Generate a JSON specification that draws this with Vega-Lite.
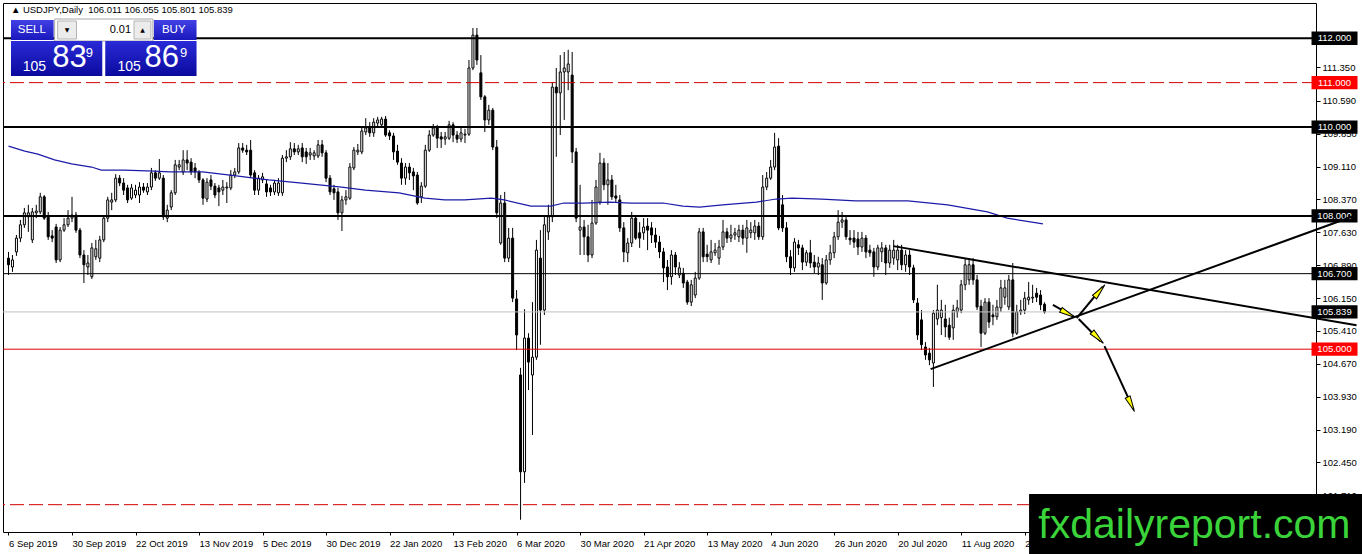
{
  "$schema": "https://vega.github.io/schema/vega-lite/v6.json",
  "width": 1313,
  "height": 529,
  "autosize": "none",
  "padding": {"left": 3, "top": 3, "right": 46, "bottom": 22},
  "background": "#ffffff",
  "config": {
    "view": {"stroke": "#000000", "strokeWidth": 1},
    "axis": {"grid": false, "domain": false, "labelFont": "Liberation Sans", "labelFontSize": 9.5, "labelColor": "#000000", "tickColor": "#000000", "labelOverlap": false, "labelBound": false, "labelFlush": false}
  },
  "data": {"values": [{}]},
  "datasets": {
    "bars": [
      {"i":0,"o":107.05,"h":107.19,"l":106.67,"c":106.9},
      {"i":1,"o":106.85,"h":107.12,"l":106.74,"c":107.01},
      {"i":2,"o":107.19,"h":107.57,"l":107.1,"c":107.5},
      {"i":3,"o":107.5,"h":107.91,"l":107.41,"c":107.8},
      {"i":4,"o":107.8,"h":108.18,"l":107.73,"c":108.07},
      {"i":5,"o":107.98,"h":108.25,"l":107.64,"c":108.07},
      {"i":6,"o":107.46,"h":108.18,"l":107.39,"c":108.09},
      {"i":7,"o":108.07,"h":108.25,"l":107.95,"c":108.11},
      {"i":8,"o":108.09,"h":108.52,"l":108.04,"c":108.43},
      {"i":9,"o":108.43,"h":108.47,"l":107.91,"c":107.95},
      {"i":10,"o":107.98,"h":108.09,"l":107.46,"c":107.53},
      {"i":11,"o":107.55,"h":107.68,"l":107.41,"c":107.5},
      {"i":12,"o":107.75,"h":107.82,"l":106.94,"c":107.01},
      {"i":13,"o":107.01,"h":107.75,"l":106.96,"c":107.68},
      {"i":14,"o":107.68,"h":107.95,"l":107.64,"c":107.8},
      {"i":15,"o":107.8,"h":108.13,"l":107.75,"c":107.95},
      {"i":16,"o":107.95,"h":108.43,"l":107.86,"c":108.02},
      {"i":17,"o":108.02,"h":108.09,"l":107.62,"c":107.68},
      {"i":18,"o":107.68,"h":107.73,"l":107.05,"c":107.12},
      {"i":19,"o":107.12,"h":107.23,"l":106.49,"c":106.9},
      {"i":20,"o":106.85,"h":107.12,"l":106.67,"c":106.94},
      {"i":21,"o":106.63,"h":107.39,"l":106.58,"c":107.28},
      {"i":22,"o":107.08,"h":107.46,"l":107.01,"c":107.26},
      {"i":23,"o":107.05,"h":107.55,"l":106.96,"c":107.46},
      {"i":24,"o":107.46,"h":108.02,"l":107.41,"c":107.95},
      {"i":25,"o":107.95,"h":108.43,"l":107.86,"c":108.36},
      {"i":26,"o":108.31,"h":108.52,"l":108.13,"c":108.36},
      {"i":27,"o":108.36,"h":108.94,"l":108.31,"c":108.85},
      {"i":28,"o":108.85,"h":108.92,"l":108.67,"c":108.74},
      {"i":29,"o":108.74,"h":108.85,"l":108.47,"c":108.58},
      {"i":30,"o":108.63,"h":108.7,"l":108.29,"c":108.36},
      {"i":31,"o":108.4,"h":108.72,"l":108.36,"c":108.63},
      {"i":32,"o":108.47,"h":108.7,"l":108.4,"c":108.58},
      {"i":33,"o":108.47,"h":108.76,"l":108.29,"c":108.65},
      {"i":34,"o":108.65,"h":108.74,"l":108.52,"c":108.58},
      {"i":35,"o":108.54,"h":108.74,"l":108.47,"c":108.65},
      {"i":36,"o":108.65,"h":109.08,"l":108.58,"c":108.97},
      {"i":37,"o":108.97,"h":109.03,"l":108.79,"c":108.85},
      {"i":38,"o":108.85,"h":109.28,"l":108.81,"c":108.97},
      {"i":39,"o":108.85,"h":108.92,"l":107.91,"c":107.98},
      {"i":40,"o":107.95,"h":108.25,"l":107.86,"c":108.13},
      {"i":41,"o":108.2,"h":108.58,"l":108.13,"c":108.52},
      {"i":42,"o":108.52,"h":109.26,"l":108.47,"c":109.15},
      {"i":43,"o":109.1,"h":109.26,"l":109.03,"c":109.15},
      {"i":44,"o":108.99,"h":109.48,"l":108.92,"c":109.26},
      {"i":45,"o":109.26,"h":109.48,"l":109.03,"c":109.19},
      {"i":46,"o":109.21,"h":109.3,"l":108.92,"c":108.99},
      {"i":47,"o":109.08,"h":109.19,"l":108.85,"c":108.99},
      {"i":48,"o":108.99,"h":109.03,"l":108.74,"c":108.81},
      {"i":49,"o":108.81,"h":108.85,"l":108.25,"c":108.4},
      {"i":50,"o":108.38,"h":108.85,"l":108.31,"c":108.76},
      {"i":51,"o":108.81,"h":108.92,"l":108.58,"c":108.67},
      {"i":52,"o":108.67,"h":108.74,"l":108.4,"c":108.47},
      {"i":53,"o":108.63,"h":108.7,"l":108.22,"c":108.54},
      {"i":54,"o":108.58,"h":108.81,"l":108.47,"c":108.65},
      {"i":55,"o":108.63,"h":108.76,"l":108.29,"c":108.65},
      {"i":56,"o":108.63,"h":109.03,"l":108.58,"c":108.92},
      {"i":57,"o":108.92,"h":109.08,"l":108.85,"c":108.99},
      {"i":58,"o":108.99,"h":109.64,"l":108.94,"c":109.53},
      {"i":59,"o":109.53,"h":109.64,"l":109.42,"c":109.48},
      {"i":60,"o":109.48,"h":109.6,"l":109.37,"c":109.44},
      {"i":61,"o":109.48,"h":109.71,"l":108.85,"c":108.92},
      {"i":62,"o":108.97,"h":109.03,"l":108.47,"c":108.58},
      {"i":63,"o":108.58,"h":108.92,"l":108.47,"c":108.85},
      {"i":64,"o":108.81,"h":108.97,"l":108.74,"c":108.88},
      {"i":65,"o":108.72,"h":108.81,"l":108.43,"c":108.54},
      {"i":66,"o":108.63,"h":108.7,"l":108.45,"c":108.54},
      {"i":67,"o":108.54,"h":108.81,"l":108.47,"c":108.74},
      {"i":68,"o":108.52,"h":108.85,"l":108.45,"c":108.74},
      {"i":69,"o":108.52,"h":109.37,"l":108.45,"c":109.3},
      {"i":70,"o":109.3,"h":109.48,"l":109.21,"c":109.33},
      {"i":71,"o":109.33,"h":109.66,"l":109.26,"c":109.51},
      {"i":72,"o":109.51,"h":109.64,"l":109.37,"c":109.44},
      {"i":73,"o":109.44,"h":109.6,"l":109.37,"c":109.51},
      {"i":74,"o":109.53,"h":109.64,"l":109.21,"c":109.33},
      {"i":75,"o":109.44,"h":109.53,"l":109.17,"c":109.33},
      {"i":76,"o":109.37,"h":109.53,"l":109.26,"c":109.42},
      {"i":77,"o":109.35,"h":109.48,"l":109.26,"c":109.42},
      {"i":78,"o":109.35,"h":109.71,"l":109.3,"c":109.6},
      {"i":79,"o":109.6,"h":109.71,"l":109.33,"c":109.42},
      {"i":80,"o":109.42,"h":109.48,"l":108.76,"c":108.85},
      {"i":81,"o":108.85,"h":108.92,"l":108.47,"c":108.54},
      {"i":82,"o":108.61,"h":108.7,"l":108.36,"c":108.52},
      {"i":83,"o":108.54,"h":108.63,"l":107.91,"c":108.07},
      {"i":84,"o":108.07,"h":108.45,"l":107.66,"c":108.36},
      {"i":85,"o":108.36,"h":108.58,"l":108.25,"c":108.43},
      {"i":86,"o":108.4,"h":109.19,"l":108.36,"c":109.1},
      {"i":87,"o":109.08,"h":109.55,"l":109.03,"c":109.48},
      {"i":88,"o":109.44,"h":109.62,"l":109.37,"c":109.48},
      {"i":89,"o":109.44,"h":109.98,"l":109.39,"c":109.91},
      {"i":90,"o":109.89,"h":110.2,"l":109.82,"c":109.98},
      {"i":91,"o":109.98,"h":110.11,"l":109.78,"c":109.87},
      {"i":92,"o":109.87,"h":110.2,"l":109.78,"c":110.11},
      {"i":93,"o":110.09,"h":110.23,"l":110.02,"c":110.16},
      {"i":94,"o":110.05,"h":110.23,"l":109.98,"c":110.18},
      {"i":95,"o":110.18,"h":110.25,"l":109.78,"c":109.82},
      {"i":96,"o":109.87,"h":109.93,"l":109.71,"c":109.8},
      {"i":97,"o":109.8,"h":109.87,"l":109.26,"c":109.44},
      {"i":98,"o":109.46,"h":109.6,"l":109.15,"c":109.21},
      {"i":99,"o":109.19,"h":109.3,"l":108.7,"c":108.85},
      {"i":100,"o":108.85,"h":109.19,"l":108.7,"c":109.1},
      {"i":101,"o":109.1,"h":109.19,"l":108.81,"c":108.97},
      {"i":102,"o":108.99,"h":109.08,"l":108.58,"c":108.9},
      {"i":103,"o":108.92,"h":108.99,"l":108.25,"c":108.29},
      {"i":104,"o":108.43,"h":108.76,"l":108.29,"c":108.67},
      {"i":105,"o":108.67,"h":109.6,"l":108.63,"c":109.48},
      {"i":106,"o":109.48,"h":109.93,"l":109.44,"c":109.82},
      {"i":107,"o":109.82,"h":110.07,"l":109.78,"c":109.98},
      {"i":108,"o":109.98,"h":110.05,"l":109.53,"c":109.75},
      {"i":109,"o":109.78,"h":109.89,"l":109.53,"c":109.73},
      {"i":110,"o":109.73,"h":109.89,"l":109.6,"c":109.78},
      {"i":111,"o":109.75,"h":110.14,"l":109.71,"c":110.05},
      {"i":112,"o":110.05,"h":110.11,"l":109.66,"c":109.82},
      {"i":113,"o":109.82,"h":109.91,"l":109.64,"c":109.73},
      {"i":114,"o":109.73,"h":109.98,"l":109.66,"c":109.87},
      {"i":115,"o":109.82,"h":109.96,"l":109.64,"c":109.84},
      {"i":116,"o":109.84,"h":111.51,"l":109.8,"c":111.33},
      {"i":117,"o":111.33,"h":112.23,"l":111.28,"c":112.07},
      {"i":118,"o":112.07,"h":112.23,"l":111.4,"c":111.51},
      {"i":119,"o":111.22,"h":111.62,"l":110.61,"c":110.68},
      {"i":120,"o":110.68,"h":110.72,"l":109.89,"c":110.16},
      {"i":121,"o":110.16,"h":110.5,"l":110.05,"c":110.38},
      {"i":122,"o":110.38,"h":110.43,"l":109.48,"c":109.55},
      {"i":123,"o":109.55,"h":109.71,"l":107.95,"c":108.07},
      {"i":124,"o":107.39,"h":108.47,"l":107.35,"c":108.29},
      {"i":125,"o":108.29,"h":108.54,"l":106.96,"c":107.05},
      {"i":126,"o":107.05,"h":107.73,"l":106.96,"c":107.5},
      {"i":127,"o":107.5,"h":107.73,"l":106.06,"c":106.15},
      {"i":128,"o":106.13,"h":106.33,"l":104.98,"c":105.32},
      {"i":129,"o":104.42,"h":104.58,"l":101.16,"c":102.24},
      {"i":130,"o":102.24,"h":105.9,"l":101.99,"c":105.25},
      {"i":131,"o":105.25,"h":105.36,"l":104.08,"c":104.71},
      {"i":132,"o":104.42,"h":106.06,"l":103.07,"c":104.82},
      {"i":133,"o":104.82,"h":107.46,"l":104.76,"c":107.23},
      {"i":134,"o":107.05,"h":107.68,"l":105.1,"c":105.88},
      {"i":135,"o":105.88,"h":108.02,"l":105.77,"c":107.8},
      {"i":136,"o":107.64,"h":108.25,"l":107.46,"c":107.98},
      {"i":137,"o":107.98,"h":111.01,"l":107.86,"c":110.9},
      {"i":138,"o":110.9,"h":111.33,"l":109.33,"c":110.77},
      {"i":139,"o":110.77,"h":111.62,"l":109.82,"c":111.24},
      {"i":140,"o":111.24,"h":111.69,"l":110.16,"c":111.33},
      {"i":141,"o":111.24,"h":111.74,"l":110.83,"c":111.42},
      {"i":142,"o":111.17,"h":111.69,"l":109.19,"c":109.44},
      {"i":143,"o":109.44,"h":109.53,"l":107.86,"c":107.95},
      {"i":144,"o":107.68,"h":108.7,"l":107.12,"c":107.75},
      {"i":145,"o":107.75,"h":107.91,"l":107.12,"c":107.53},
      {"i":146,"o":107.53,"h":107.8,"l":106.96,"c":107.12},
      {"i":147,"o":107.12,"h":108.36,"l":107.05,"c":107.84},
      {"i":148,"o":107.84,"h":108.81,"l":107.8,"c":108.65},
      {"i":149,"o":108.31,"h":109.42,"l":108.25,"c":109.19},
      {"i":150,"o":109.19,"h":109.3,"l":108.58,"c":108.7},
      {"i":151,"o":108.7,"h":109.19,"l":108.25,"c":108.81},
      {"i":152,"o":108.81,"h":108.92,"l":108.36,"c":108.43},
      {"i":153,"o":108.45,"h":108.7,"l":108.31,"c":108.4},
      {"i":154,"o":108.36,"h":108.47,"l":107.64,"c":107.73},
      {"i":155,"o":107.73,"h":107.86,"l":106.96,"c":107.19},
      {"i":156,"o":107.17,"h":107.5,"l":106.96,"c":107.39},
      {"i":157,"o":107.39,"h":108.09,"l":107.3,"c":107.95},
      {"i":158,"o":107.95,"h":108.02,"l":107.46,"c":107.5},
      {"i":159,"o":107.62,"h":107.86,"l":107.28,"c":107.5},
      {"i":160,"o":107.62,"h":107.95,"l":107.46,"c":107.75},
      {"i":161,"o":107.77,"h":107.95,"l":107.23,"c":107.68},
      {"i":162,"o":107.73,"h":107.86,"l":107.39,"c":107.57},
      {"i":163,"o":107.57,"h":107.73,"l":107.28,"c":107.41},
      {"i":164,"o":107.41,"h":107.55,"l":107.05,"c":107.19},
      {"i":165,"o":107.19,"h":107.28,"l":106.51,"c":106.83},
      {"i":166,"o":106.85,"h":107.01,"l":106.33,"c":106.63},
      {"i":167,"o":106.63,"h":107.23,"l":106.45,"c":107.12},
      {"i":168,"o":107.12,"h":107.19,"l":106.67,"c":106.85},
      {"i":169,"o":106.67,"h":106.96,"l":106.6,"c":106.83},
      {"i":170,"o":106.71,"h":106.83,"l":106.38,"c":106.49},
      {"i":171,"o":106.51,"h":106.56,"l":106.0,"c":106.06},
      {"i":172,"o":106.06,"h":106.56,"l":105.97,"c":106.45},
      {"i":173,"o":106.22,"h":106.74,"l":106.15,"c":106.6},
      {"i":174,"o":106.6,"h":107.73,"l":106.56,"c":107.64},
      {"i":175,"o":107.64,"h":107.73,"l":106.96,"c":107.08},
      {"i":176,"o":107.14,"h":107.35,"l":106.96,"c":107.08},
      {"i":177,"o":107.01,"h":107.46,"l":106.94,"c":107.19},
      {"i":178,"o":107.17,"h":107.39,"l":107.1,"c":107.23},
      {"i":179,"o":107.05,"h":107.46,"l":106.9,"c":107.3},
      {"i":180,"o":107.3,"h":107.91,"l":107.23,"c":107.64},
      {"i":181,"o":107.64,"h":107.73,"l":107.39,"c":107.5},
      {"i":182,"o":107.5,"h":107.8,"l":107.41,"c":107.57},
      {"i":183,"o":107.57,"h":107.73,"l":107.46,"c":107.62},
      {"i":184,"o":107.53,"h":107.8,"l":107.41,"c":107.68},
      {"i":185,"o":107.68,"h":107.8,"l":107.35,"c":107.5},
      {"i":186,"o":107.5,"h":107.91,"l":107.17,"c":107.73},
      {"i":187,"o":107.62,"h":107.86,"l":107.5,"c":107.68},
      {"i":188,"o":107.62,"h":107.91,"l":107.46,"c":107.77},
      {"i":189,"o":107.77,"h":107.86,"l":107.46,"c":107.53},
      {"i":190,"o":107.53,"h":108.92,"l":107.46,"c":108.65},
      {"i":191,"o":108.65,"h":108.99,"l":108.58,"c":108.85},
      {"i":192,"o":108.85,"h":109.26,"l":108.81,"c":109.1},
      {"i":193,"o":109.1,"h":109.87,"l":109.03,"c":109.55},
      {"i":194,"o":109.57,"h":109.75,"l":107.68,"c":107.73},
      {"i":195,"o":108.25,"h":108.47,"l":107.64,"c":107.73},
      {"i":196,"o":107.73,"h":107.86,"l":106.96,"c":107.08},
      {"i":197,"o":107.08,"h":107.23,"l":106.67,"c":106.83},
      {"i":198,"o":106.83,"h":107.5,"l":106.74,"c":107.41},
      {"i":199,"o":107.35,"h":107.46,"l":107.12,"c":107.28},
      {"i":200,"o":107.28,"h":107.35,"l":106.78,"c":106.96},
      {"i":201,"o":106.96,"h":107.23,"l":106.87,"c":107.17},
      {"i":202,"o":107.17,"h":107.46,"l":106.83,"c":106.94},
      {"i":203,"o":106.96,"h":107.12,"l":106.71,"c":106.85},
      {"i":204,"o":106.85,"h":107.08,"l":106.67,"c":106.94},
      {"i":205,"o":106.9,"h":107.05,"l":106.11,"c":106.49},
      {"i":206,"o":106.49,"h":107.12,"l":106.45,"c":107.01},
      {"i":207,"o":107.01,"h":107.35,"l":106.9,"c":107.17},
      {"i":208,"o":107.17,"h":107.64,"l":107.05,"c":107.53},
      {"i":209,"o":107.53,"h":108.13,"l":107.46,"c":107.86},
      {"i":210,"o":107.86,"h":108.09,"l":107.73,"c":107.91},
      {"i":211,"o":107.91,"h":108.02,"l":107.46,"c":107.53},
      {"i":212,"o":107.5,"h":107.68,"l":107.35,"c":107.46},
      {"i":213,"o":107.5,"h":107.68,"l":107.28,"c":107.41},
      {"i":214,"o":107.48,"h":107.64,"l":107.12,"c":107.3},
      {"i":215,"o":107.3,"h":107.64,"l":107.19,"c":107.5},
      {"i":216,"o":107.5,"h":107.57,"l":107.05,"c":107.19},
      {"i":217,"o":107.23,"h":107.35,"l":107.08,"c":107.17},
      {"i":218,"o":107.19,"h":107.28,"l":106.63,"c":106.85},
      {"i":219,"o":106.85,"h":107.35,"l":106.78,"c":107.28},
      {"i":220,"o":107.19,"h":107.41,"l":106.96,"c":107.28},
      {"i":221,"o":107.28,"h":107.35,"l":106.67,"c":106.94},
      {"i":222,"o":106.94,"h":107.35,"l":106.83,"c":107.23},
      {"i":223,"o":107.05,"h":107.46,"l":106.9,"c":107.23},
      {"i":224,"o":107.01,"h":107.35,"l":106.78,"c":107.23},
      {"i":225,"o":107.23,"h":107.35,"l":106.78,"c":106.9},
      {"i":226,"o":106.9,"h":107.23,"l":106.74,"c":107.12},
      {"i":227,"o":107.12,"h":107.23,"l":106.67,"c":106.85},
      {"i":228,"o":106.83,"h":106.9,"l":106.04,"c":106.11},
      {"i":229,"o":106.04,"h":106.15,"l":105.21,"c":105.32},
      {"i":230,"o":105.66,"h":105.88,"l":104.98,"c":105.1},
      {"i":231,"o":105.05,"h":105.16,"l":104.76,"c":104.87},
      {"i":232,"o":104.91,"h":105.03,"l":104.64,"c":104.76},
      {"i":233,"o":104.69,"h":105.88,"l":104.15,"c":105.81},
      {"i":234,"o":105.68,"h":106.45,"l":105.54,"c":105.88},
      {"i":235,"o":105.71,"h":106.11,"l":105.32,"c":105.88},
      {"i":236,"o":105.68,"h":106.0,"l":105.27,"c":105.5},
      {"i":237,"o":105.54,"h":105.71,"l":105.21,"c":105.27},
      {"i":238,"o":105.48,"h":106.0,"l":105.21,"c":105.88},
      {"i":239,"o":105.84,"h":106.11,"l":105.71,"c":105.93},
      {"i":240,"o":105.88,"h":106.56,"l":105.81,"c":106.45},
      {"i":241,"o":106.45,"h":107.05,"l":106.33,"c":106.9},
      {"i":242,"o":106.56,"h":107.05,"l":106.45,"c":106.9},
      {"i":243,"o":106.9,"h":107.05,"l":106.45,"c":106.56},
      {"i":244,"o":106.56,"h":106.67,"l":105.88,"c":105.95},
      {"i":245,"o":105.97,"h":106.11,"l":105.05,"c":105.36},
      {"i":246,"o":105.36,"h":106.15,"l":105.32,"c":106.06},
      {"i":247,"o":106.06,"h":106.15,"l":105.48,"c":105.61},
      {"i":248,"o":105.77,"h":106.0,"l":105.54,"c":105.73},
      {"i":249,"o":105.73,"h":106.11,"l":105.66,"c":105.95},
      {"i":250,"o":105.93,"h":106.56,"l":105.84,"c":106.38},
      {"i":251,"o":106.17,"h":106.56,"l":106.0,"c":106.38},
      {"i":252,"o":105.95,"h":106.67,"l":105.88,"c":106.56},
      {"i":253,"o":106.56,"h":106.94,"l":105.27,"c":105.36},
      {"i":254,"o":105.36,"h":106.0,"l":105.32,"c":105.84},
      {"i":255,"o":105.84,"h":106.11,"l":105.77,"c":105.88},
      {"i":256,"o":105.88,"h":106.29,"l":105.79,"c":106.15},
      {"i":257,"o":106.11,"h":106.51,"l":106.0,"c":106.17},
      {"i":258,"o":106.15,"h":106.45,"l":106.04,"c":106.17},
      {"i":259,"o":106.26,"h":106.38,"l":106.06,"c":106.17},
      {"i":260,"o":106.22,"h":106.33,"l":105.88,"c":106.0},
      {"i":261,"o":106.011,"h":106.055,"l":105.801,"c":105.839}
    ],
    "ma": [
      {"i":0,"p":109.57},{"i":4.1,"p":109.46},{"i":7.4,"p":109.39},{"i":11.6,"p":109.26},
      {"i":15.9,"p":109.17},{"i":20.9,"p":109.1},{"i":23.4,"p":109.03},{"i":29.1,"p":109.03},
      {"i":36.6,"p":109.01},{"i":40.6,"p":108.99},{"i":48.9,"p":108.99},{"i":57.4,"p":108.9},
      {"i":65.6,"p":108.81},{"i":73.9,"p":108.74},{"i":83.9,"p":108.65},{"i":89.9,"p":108.58},
      {"i":98.4,"p":108.52},{"i":104.9,"p":108.4},{"i":109.9,"p":108.36},{"i":114.9,"p":108.36},
      {"i":121.6,"p":108.4},{"i":124.9,"p":108.36},{"i":131.6,"p":108.22},{"i":136.6,"p":108.22},
      {"i":139.9,"p":108.29},{"i":144.9,"p":108.29},{"i":151.6,"p":108.31},{"i":156.6,"p":108.29},
      {"i":164.9,"p":108.29},{"i":169.9,"p":108.22},{"i":174.1,"p":108.2},{"i":179.9,"p":108.25},
      {"i":188.4,"p":108.31},{"i":193.4,"p":108.38},{"i":197.4,"p":108.4},{"i":204.9,"p":108.38},
      {"i":213.4,"p":108.34},{"i":226.6,"p":108.34},{"i":236.6,"p":108.25},{"i":246.6,"p":108.09},
      {"i":251.6,"p":107.95},{"i":260.6,"p":107.82}
    ],
    "trend": [
      {"id":"down","i":222.9,"p":107.32},{"id":"down","i":339.6,"p":105.54},
      {"id":"up","i":232.3,"p":104.55},{"id":"up","i":339.6,"p":108.02}
    ],
    "arrows": [
      {"id":1,"i":263.1,"p":106.0},{"id":1,"i":268.6,"p":105.72},
      {"id":2,"i":269.1,"p":105.7},{"id":2,"i":275.6,"p":106.4},
      {"id":3,"i":269.6,"p":105.68},{"id":3,"i":275.1,"p":105.18},
      {"id":4,"i":276.1,"p":105.07},{"id":4,"i":283.4,"p":103.65}
    ],
    "levels": [
      {"p":112,"k":"line"},{"p":111,"k":"red"},{"p":110,"k":"line"},{"p":108,"k":"line"},
      {"p":106.7,"k":"line"},{"p":105.839,"k":"line"},{"p":105,"k":"red"}
    ]
  },
  "layer": [
    {
      "data": {"name": "bars"},
      "mark": {"type": "rule", "color": "#000000", "strokeWidth": 1},
      "encoding": {
        "x": {
          "field": "i", "type": "quantitative",
          "scale": {"domain": [-0.125, 328.125], "nice": false, "zero": false},
          "axis": {
            "orient": "bottom", "title": null,
            "values": [0,16,32,48,64,80,96,112,128,144,160,176,192,208,224,240,256],
            "labelExpr": "['6 Sep 2019','30 Sep 2019','22 Oct 2019','13 Nov 2019','5 Dec 2019','30 Dec 2019','22 Jan 2020','13 Feb 2020','6 Mar 2020','30 Mar 2020','21 Apr 2020','13 May 2020','4 Jun 2020','26 Jun 2020','20 Jul 2020','11 Aug 2020','2 Sep 2020'][round(datum.value/16)]",
            "labelAlign": "left", "labelBaseline": "top", "labelPadding": 3, "tickSize": 3
          }
        },
        "y": {
          "field": "l", "type": "quantitative",
          "scale": {"domain": [100.885, 112.7925], "nice": false, "zero": false},
          "axis": {
            "orient": "right", "title": null,
            "values": [101.71,102.45,103.19,103.93,104.67,105.41,106.15,106.89,107.63,108.37,109.11,109.85,110.59,111.35],
            "format": ".3f", "labelPadding": 2, "tickSize": 4, "labelBaseline": "middle"
          }
        },
        "y2": {"field": "h"}
      }
    },
    {
      "data": {"name": "bars"},
      "mark": {"type": "bar", "width": 2, "stroke": "#000000", "strokeWidth": 1},
      "encoding": {
        "x": {"field": "i", "type": "quantitative"},
        "y": {"field": "o", "type": "quantitative"},
        "y2": {"field": "c"},
        "color": {"condition": {"test": "datum.c >= datum.o", "value": "#ffffff"}, "value": "#000000"}
      }
    },
    {
      "data": {"name": "ma"},
      "mark": {"type": "line", "color": "#1c1ca8", "strokeWidth": 1.2},
      "encoding": {
        "x": {"field": "i", "type": "quantitative"},
        "y": {"field": "p", "type": "quantitative"}
      }
    },
    {
      "data": {"values": [{"p": 112}, {"p": 110}, {"p": 108}]},
      "mark": {"type": "rule", "color": "#000000", "strokeWidth": 2},
      "encoding": {"y": {"field": "p", "type": "quantitative"}}
    },
    {
      "mark": {"type": "rule", "color": "#000000", "strokeWidth": 1},
      "encoding": {"y": {"datum": 106.7, "type": "quantitative"}}
    },
    {
      "mark": {"type": "rule", "color": "#c0c0c0", "strokeWidth": 1},
      "encoding": {"y": {"datum": 105.839, "type": "quantitative"}}
    },
    {
      "mark": {"type": "rule", "color": "#e00000", "strokeWidth": 1},
      "encoding": {"y": {"datum": 105, "type": "quantitative"}}
    },
    {
      "data": {"values": [{"p": 111}, {"p": 101.5}]},
      "mark": {"type": "rule", "color": "#d00000", "strokeWidth": 1, "strokeDash": [14, 5]},
      "encoding": {"y": {"field": "p", "type": "quantitative"}}
    },
    {
      "data": {"name": "levels"},
      "mark": {"type": "point", "shape": "M-1,-0.29H1V0.29H-1Z", "size": 2116, "filled": true, "opacity": 1, "strokeWidth": 0},
      "encoding": {
        "x": {"datum": 334.05, "type": "quantitative"},
        "y": {"field": "p", "type": "quantitative"},
        "color": {"field": "k", "type": "nominal", "scale": {"domain": ["line", "red"], "range": ["#000000", "#ff0000"]}, "legend": null}
      }
    },
    {
      "data": {"name": "levels"},
      "mark": {"type": "text", "color": "#ffffff", "font": "Liberation Sans", "fontSize": 9.5, "align": "center", "baseline": "middle"},
      "encoding": {
        "x": {"datum": 334.05, "type": "quantitative"},
        "y": {"field": "p", "type": "quantitative"},
        "text": {"field": "p", "type": "quantitative", "format": ".3f"}
      }
    },
    {
      "data": {"name": "trend"},
      "mark": {"type": "line", "color": "#000000", "strokeWidth": 2},
      "encoding": {
        "x": {"field": "i", "type": "quantitative"},
        "y": {"field": "p", "type": "quantitative"},
        "detail": {"field": "id"}
      }
    },
    {
      "data": {"name": "arrows"},
      "mark": {"type": "line", "color": "#000000", "strokeWidth": 2},
      "encoding": {
        "x": {"field": "i", "type": "quantitative"},
        "y": {"field": "p", "type": "quantitative"},
        "detail": {"field": "id"}
      }
    },
    {
      "mark": {"type": "point", "shape": "M0,-1L0.34,1L-0.34,1Z", "size": 256, "filled": true, "opacity": 1, "color": "#ffff00", "stroke": "#000000", "strokeWidth": 1, "angle": 118},
      "encoding": {"x": {"datum": 266.9}, "y": {"datum": 105.8}}
    },
    {
      "mark": {"type": "point", "shape": "M0,-1L0.34,1L-0.34,1Z", "size": 256, "filled": true, "opacity": 1, "color": "#ffff00", "stroke": "#000000", "strokeWidth": 1, "angle": 40},
      "encoding": {"x": {"datum": 274.9}, "y": {"datum": 106.31}}
    },
    {
      "mark": {"type": "point", "shape": "M0,-1L0.34,1L-0.34,1Z", "size": 256, "filled": true, "opacity": 1, "color": "#ffff00", "stroke": "#000000", "strokeWidth": 1, "angle": 135},
      "encoding": {"x": {"datum": 274.4}, "y": {"datum": 105.26}}
    },
    {
      "mark": {"type": "point", "shape": "M0,-1L0.34,1L-0.34,1Z", "size": 256, "filled": true, "opacity": 1, "color": "#ffff00", "stroke": "#000000", "strokeWidth": 1, "angle": 155},
      "encoding": {"x": {"datum": 282.8}, "y": {"datum": 103.76}}
    },
    {
      "mark": {"type": "text", "font": "Liberation Sans", "fontSize": 9.5, "color": "#000000", "align": "left", "baseline": "middle"},
      "encoding": {
        "x": {"datum": 0.6}, "y": {"datum": 112.635},
        "text": {"value": "▲ USDJPY,Daily\u00a0\u00a0106.011 106.055 105.801 105.839"}
      }
    },
    {
      "mark": {"type": "rect", "fill": {"gradient": "linear", "x1": 0, "y1": 0, "x2": 0, "y2": 1, "stops": [{"offset": 0, "color": "#4040e6"}, {"offset": 1, "color": "#1818bc"}]}},
      "encoding": {"x": {"datum": 0.625}, "x2": {"datum": 11.375}, "y": {"datum": 112.41}, "y2": {"datum": 111.96}}
    },
    {
      "mark": {"type": "rect", "fill": "#ffffff", "stroke": "#a8a8a8", "strokeWidth": 1},
      "encoding": {"x": {"datum": 11.625}, "x2": {"datum": 36.375}, "y": {"datum": 112.432}, "y2": {"datum": 111.937}}
    },
    {
      "mark": {"type": "rect", "fill": "#ececec", "stroke": "#b4b4b4", "strokeWidth": 1},
      "encoding": {"x": {"datum": 12.375}, "x2": {"datum": 17.125}, "y": {"datum": 112.387}, "y2": {"datum": 111.982}}
    },
    {
      "mark": {"type": "rect", "fill": "#ececec", "stroke": "#b4b4b4", "strokeWidth": 1},
      "encoding": {"x": {"datum": 31.625}, "x2": {"datum": 35.875}, "y": {"datum": 112.387}, "y2": {"datum": 111.982}}
    },
    {
      "mark": {"type": "rect", "fill": {"gradient": "linear", "x1": 0, "y1": 0, "x2": 0, "y2": 1, "stops": [{"offset": 0, "color": "#4040e6"}, {"offset": 1, "color": "#1818bc"}]}},
      "encoding": {"x": {"datum": 36.625}, "x2": {"datum": 47.375}, "y": {"datum": 112.41}, "y2": {"datum": 111.96}}
    },
    {
      "mark": {"type": "rect", "fill": {"gradient": "linear", "x1": 0, "y1": 0, "x2": 0, "y2": 1, "stops": [{"offset": 0, "color": "#2a2ad8"}, {"offset": 1, "color": "#0a0a9e"}]}},
      "encoding": {"x": {"datum": 0.625}, "x2": {"datum": 23.625}, "y": {"datum": 111.937}, "y2": {"datum": 111.149}}
    },
    {
      "mark": {"type": "rect", "fill": {"gradient": "linear", "x1": 0, "y1": 0, "x2": 0, "y2": 1, "stops": [{"offset": 0, "color": "#2a2ad8"}, {"offset": 1, "color": "#0a0a9e"}]}},
      "encoding": {"x": {"datum": 24.375}, "x2": {"datum": 47.375}, "y": {"datum": 111.937}, "y2": {"datum": 111.149}}
    },
    {
      "mark": {"type": "text", "font": "Liberation Sans", "fontSize": 11.5, "color": "#ffffff", "align": "center", "baseline": "middle"},
      "encoding": {"x": {"datum": 5.875}, "y": {"datum": 112.185}, "text": {"value": "SELL"}}
    },
    {
      "mark": {"type": "text", "font": "Liberation Sans", "fontSize": 11.5, "color": "#ffffff", "align": "center", "baseline": "middle"},
      "encoding": {"x": {"datum": 41.625}, "y": {"datum": 112.185}, "text": {"value": "BUY"}}
    },
    {
      "mark": {"type": "text", "font": "Liberation Sans", "fontSize": 11, "color": "#000000", "align": "right", "baseline": "middle"},
      "encoding": {"x": {"datum": 30.875}, "y": {"datum": 112.185}, "text": {"value": "0.01"}}
    },
    {
      "mark": {"type": "text", "font": "DejaVu Sans", "fontSize": 6, "color": "#000000", "align": "center", "baseline": "middle"},
      "encoding": {"x": {"datum": 14.75}, "y": {"datum": 112.185}, "text": {"value": "▼"}}
    },
    {
      "mark": {"type": "text", "font": "DejaVu Sans", "fontSize": 6, "color": "#000000", "align": "center", "baseline": "middle"},
      "encoding": {"x": {"datum": 33.75}, "y": {"datum": 112.185}, "text": {"value": "▲"}}
    },
    {
      "mark": {"type": "text", "font": "Liberation Sans", "fontSize": 14, "color": "#ffffff", "align": "center", "baseline": "alphabetic"},
      "encoding": {"x": {"datum": 6.5}, "y": {"datum": 111.262}, "text": {"value": "105"}}
    },
    {
      "mark": {"type": "text", "font": "Liberation Sans", "fontSize": 31, "color": "#ffffff", "align": "center", "baseline": "alphabetic"},
      "encoding": {"x": {"datum": 15.375}, "y": {"datum": 111.352}, "text": {"value": "83"}}
    },
    {
      "mark": {"type": "text", "font": "Liberation Sans", "fontSize": 13, "color": "#ffffff", "align": "center", "baseline": "alphabetic"},
      "encoding": {"x": {"datum": 20.375}, "y": {"datum": 111.577}, "text": {"value": "9"}}
    },
    {
      "mark": {"type": "text", "font": "Liberation Sans", "fontSize": 14, "color": "#ffffff", "align": "center", "baseline": "alphabetic"},
      "encoding": {"x": {"datum": 30.375}, "y": {"datum": 111.262}, "text": {"value": "105"}}
    },
    {
      "mark": {"type": "text", "font": "Liberation Sans", "fontSize": 31, "color": "#ffffff", "align": "center", "baseline": "alphabetic"},
      "encoding": {"x": {"datum": 38.625}, "y": {"datum": 111.352}, "text": {"value": "86"}}
    },
    {
      "mark": {"type": "text", "font": "Liberation Sans", "fontSize": 13, "color": "#ffffff", "align": "center", "baseline": "alphabetic"},
      "encoding": {"x": {"datum": 44.125}, "y": {"datum": 111.577}, "text": {"value": "9"}}
    },
    {
      "mark": {"type": "rect", "fill": "#000000"},
      "encoding": {"x": {"datum": 257.1}, "x2": {"datum": 342}, "y": {"datum": 101.74}, "y2": {"datum": 100.0}}
    },
    {
      "mark": {"type": "text", "font": "Liberation Sans", "fontSize": 41, "color": "#3ad43a", "align": "center", "baseline": "alphabetic"},
      "encoding": {"x": {"datum": 298.75}, "y": {"datum": 100.75}, "text": {"value": "fxdailyreport.com"}}
    }
  ]
}
